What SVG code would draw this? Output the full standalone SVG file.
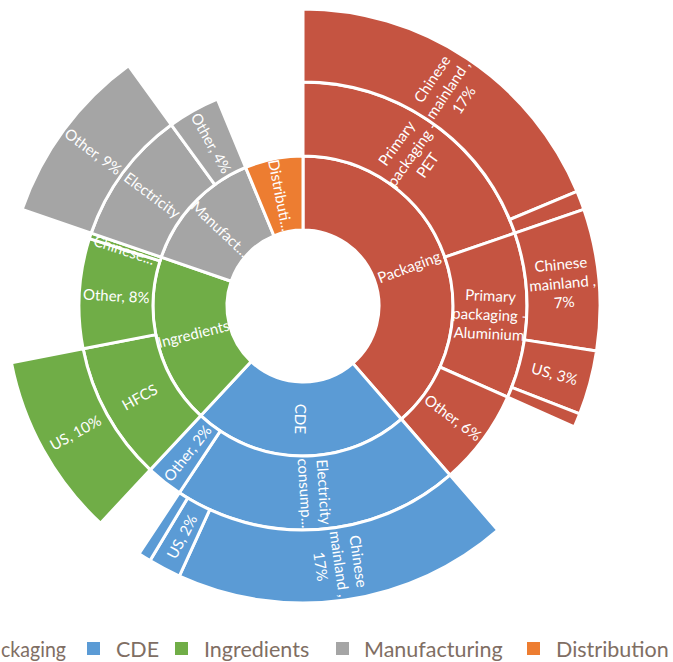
<svg xmlns="http://www.w3.org/2000/svg" width="673" height="662" viewBox="0 0 673 662">
<style>
.s{stroke:#fff;stroke-width:3}
.pk{fill:#C55441}.cd{fill:#5B9BD5}.in{fill:#70AD47}.mf{fill:#A5A5A5}.ds{fill:#ED7D31}
.t{font-family:Lato,"Liberation Sans",sans-serif;font-size:15px;fill:#fff;text-anchor:middle;dominant-baseline:central}
.lg{font-family:Lato,"Liberation Sans",sans-serif;font-size:21.5px;fill:#806e63}
</style>
<rect width="673" height="662" fill="#fff"/>
<g id="ring1">
<g id="packaging"><path class="s pk" d="M303,156 A150,150 0 0 1 401.41,419.21 L352.86,363.36 A76,76 0 0 0 303,230 Z"/><text class="t" transform="translate(408.84,266.43) rotate(-20.5)">Packaging</text></g>
<g id="cde"><path class="s cd" d="M401.41,419.21 A150,150 0 0 1 200.70,415.70 L251.17,361.58 A76,76 0 0 0 352.86,363.36 Z"/><text class="t" transform="translate(301.03,418.98) rotate(91)">CDE</text></g>
<g id="ingredients"><path class="s in" d="M200.70,415.70 A150,150 0 0 1 161.17,257.16 L231.14,281.26 A76,76 0 0 0 251.17,361.58 Z"/><text class="t" transform="translate(193.36,333.34) rotate(-14)">Ingredients</text></g>
<g id="manufacturing"><path class="s mf" d="M161.17,257.16 A150,150 0 0 1 245.60,167.42 L273.92,235.79 A76,76 0 0 0 231.14,281.26 Z"/><text class="t" transform="translate(220.69,228.57) rotate(43.25)">Manufact...</text></g>
<g id="distribution"><path class="s ds" d="M245.60,167.42 A150,150 0 0 1 303,156 L303,230 A76,76 0 0 0 273.92,235.79 Z"/><text class="t" transform="translate(280.95,195.17) rotate(78.75)">Distributi...</text></g>
</g>
<g id="ring2">
<g id="pet"><path class="s pk" d="M303,82 A224,224 0 0 1 514.80,233.07 L444.83,257.16 A150,150 0 0 0 303,156 Z"/><text class="t" transform="translate(411.59,153.76) rotate(-54.5)"><tspan x="0" y="-19">Primary</tspan><tspan x="0" y="0">packaging -</tspan><tspan x="0" y="19">PET</tspan></text></g>
<g id="aluminium"><path class="s pk" d="M514.80,233.07 A224,224 0 0 1 507.64,397.11 L440.03,367.01 A150,150 0 0 0 444.83,257.16 Z"/><text class="t" transform="translate(489.82,314.16) rotate(2.5)"><tspan x="0" y="-19">Primary</tspan><tspan x="0" y="0">packaging -</tspan><tspan x="0" y="19">Aluminium</tspan></text></g>
<g id="pk-other"><path class="s pk" d="M507.64,397.11 A224,224 0 0 1 449.96,475.06 L401.41,419.21 A150,150 0 0 0 440.03,367.01 Z"/><text class="t" transform="translate(453.32,417.23) rotate(36.5)">Other, 6%</text></g>
<g id="cde-elec"><path class="s cd" d="M449.96,475.06 A224,224 0 0 1 179.37,492.79 L220.21,431.08 A150,150 0 0 0 401.41,419.21 Z"/><text class="t" transform="translate(315.23,492.60) rotate(86.25)"><tspan x="0" y="-9.5">Electricity</tspan><tspan x="0" y="9.5">consump...</tspan></text></g>
<g id="cde-other"><path class="s cd" d="M179.37,492.79 A224,224 0 0 1 150.23,469.82 L200.70,415.70 A150,150 0 0 0 220.21,431.08 Z"/><text class="t" transform="translate(187.23,452.85) rotate(-51.75)">Other, 2%</text></g>
<g id="hfcs"><path class="s in" d="M150.23,469.82 A224,224 0 0 1 83.11,348.74 L155.76,334.62 A150,150 0 0 0 200.70,415.70 Z"/><text class="t" transform="translate(139.45,396.66) rotate(-29)">HFCS</text></g>
<g id="in-other"><path class="s in" d="M83.11,348.74 A224,224 0 0 1 89.37,238.64 L159.94,260.89 A150,150 0 0 0 155.76,334.62 Z"/><text class="t" transform="translate(116.30,295.40) rotate(3.25)">Other, 8%</text></g>
<g id="in-chinese"><path class="s in" d="M89.37,238.64 A224,224 0 0 1 91.20,233.07 L161.17,257.16 A150,150 0 0 0 159.94,260.89 Z"/><text class="t" transform="translate(124.41,249.44) rotate(18.25)">Chinese...</text></g>
<g id="mf-elec"><path class="s mf" d="M91.20,233.07 A224,224 0 0 1 171.34,124.78 L214.83,184.65 A150,150 0 0 0 161.17,257.16 Z"/><text class="t" transform="translate(152.68,194.77) rotate(36.5)">Electricity</text></g>
<g id="mf-other"><path class="s mf" d="M171.34,124.78 A224,224 0 0 1 217.28,99.05 L245.60,167.42 A150,150 0 0 0 214.83,184.65 Z"/><text class="t" transform="translate(211.63,142.84) rotate(60.75)">Other, 4%</text></g>
</g>
<g id="ring3">
<g id="pet-cn"><path class="s pk" d="M303,9 A297,297 0 0 1 576.99,191.38 L509.65,219.56 A224,224 0 0 0 303,82 Z"/><text class="t" transform="translate(447.35,89.15) rotate(-56.35)"><tspan x="0" y="-19">Chinese</tspan><tspan x="0" y="0">mainland ,</tspan><tspan x="0" y="19">17%</tspan></text></g>
<g id="pet-small"><path class="s pk" d="M576.99,191.38 A297,297 0 0 1 583.82,209.31 L514.80,233.07 A224,224 0 0 0 509.65,219.56 Z"/></g>
<g id="al-cn"><path class="s pk" d="M583.82,209.31 A297,297 0 0 1 596.58,350.92 L524.42,339.88 A224,224 0 0 0 514.80,233.07 Z"/><text class="t" transform="translate(562.45,282.62) rotate(-5.15)"><tspan x="0" y="-19">Chinese</tspan><tspan x="0" y="0">mainland ,</tspan><tspan x="0" y="19">7%</tspan></text></g>
<g id="al-us"><path class="s pk" d="M596.58,350.92 A297,297 0 0 1 579.71,413.89 L511.70,387.37 A224,224 0 0 0 524.42,339.88 Z"/><text class="t" transform="translate(554.62,373.42) rotate(15)">US, 3%</text></g>
<g id="al-small"><path class="s pk" d="M579.71,413.89 A297,297 0 0 1 574.32,426.80 L507.64,397.11 A224,224 0 0 0 511.70,387.37 Z"/></g>
<g id="cde-cn"><path class="s cd" d="M497.85,530.15 A297,297 0 0 1 179.36,576.04 L209.75,509.67 A224,224 0 0 0 449.96,475.06 Z"/><text class="t" transform="translate(340.16,563.84) rotate(81.8)"><tspan x="0" y="-19">Chinese</tspan><tspan x="0" y="0">mainland ,</tspan><tspan x="0" y="19">17%</tspan></text></g>
<g id="cde-us"><path class="s cd" d="M179.36,576.04 A297,297 0 0 1 150.03,560.58 L187.63,498.01 A224,224 0 0 0 209.75,509.67 Z"/><text class="t" transform="translate(181.51,536.43) rotate(-62.2)">US, 2%</text></g>
<g id="cde-small"><path class="s cd" d="M150.03,560.58 A297,297 0 0 1 139.07,553.67 L179.37,492.79 A224,224 0 0 0 187.63,498.01 Z"/></g>
<g id="hfcs-us"><path class="s in" d="M100.45,523.21 A297,297 0 0 1 11.46,362.67 L83.11,348.74 A224,224 0 0 0 150.23,469.82 Z"/><text class="t" transform="translate(75.16,432.29) rotate(-29)">US, 10%</text></g>
<g id="mf-elec-other"><path class="s mf" d="M22.18,209.31 A297,297 0 0 1 128.43,65.72 L171.34,124.78 A224,224 0 0 0 91.20,233.07 Z"/><text class="t" transform="translate(93.59,151.05) rotate(36.5)">Other, 9%</text></g>
</g>
<g id="legend">
<text class="lg" x="1" y="657" textLength="65" lengthAdjust="spacingAndGlyphs">ckaging</text>
<rect x="87" y="642" width="13" height="13" class="cd"/><text class="lg" x="116" y="657">CDE</text>
<rect x="175" y="642" width="13" height="13" class="in"/><text class="lg" x="204" y="657">Ingredients</text>
<rect x="336" y="642" width="13" height="13" class="mf"/><text class="lg" x="364" y="657">Manufacturing</text>
<rect x="527" y="642" width="13" height="13" class="ds"/><text class="lg" x="556" y="657">Distribution</text>
</g>
</svg>
